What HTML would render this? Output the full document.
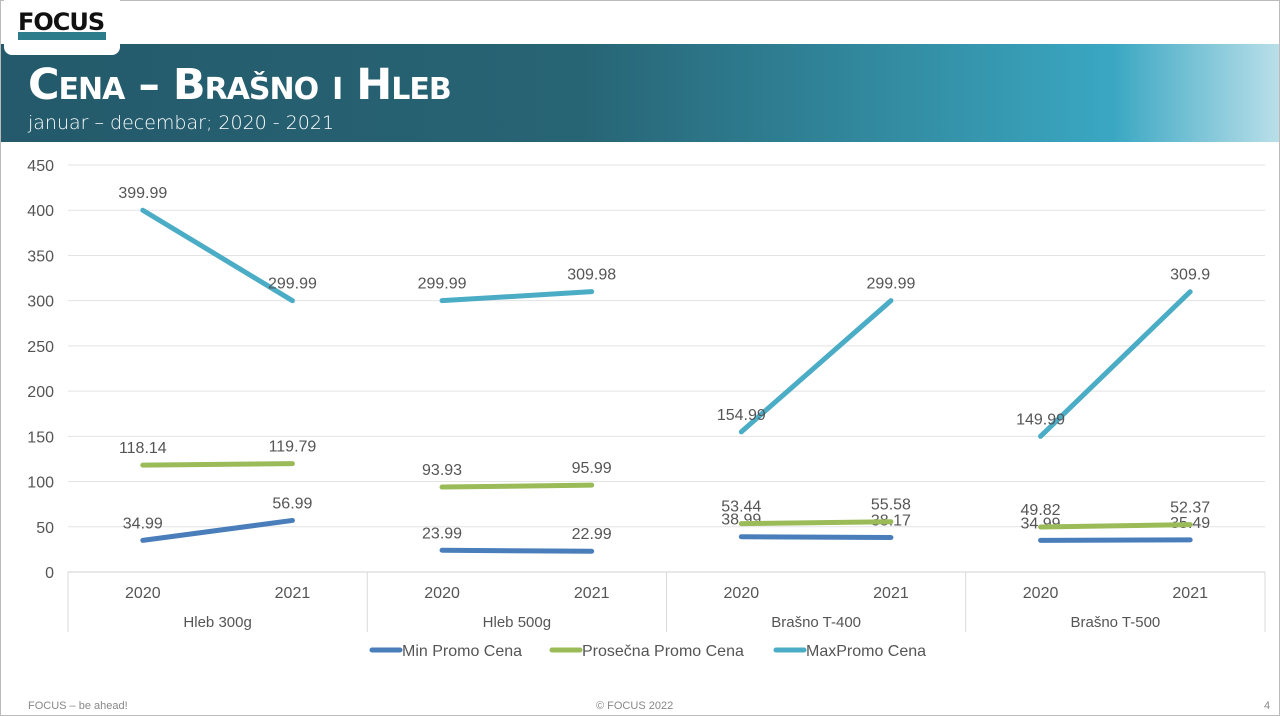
<!DOCTYPE html>
<html><head><meta charset="utf-8"><style>
body{margin:0;width:1280px;height:716px;overflow:hidden;background:#fff;font-family:"Liberation Sans",sans-serif}
.frame{position:absolute;left:0;top:0;width:1278px;height:714px;border:1px solid #bbb}
.band{position:absolute;left:1px;top:44px;width:1278px;height:98px;background:linear-gradient(90deg,#245a6b 0%,#276474 45%,#3594ab 75%,#3aa7c2 87%,#b9dfe9 100%)}
.tab{position:absolute;left:4px;top:0;width:116px;height:55px;background:#fff;border-radius:0 0 8px 8px}
.title{position:absolute;left:28px;top:60px;color:#fff;font-family:"DejaVu Sans",sans-serif;font-weight:bold;font-size:43px;font-variant:small-caps;letter-spacing:-1px;line-height:50px}
.sub{position:absolute;left:28px;top:111px;color:#fff;font-family:"DejaVu Sans",sans-serif;font-size:19px;line-height:24px;font-weight:300}
.foot{position:absolute;top:700px;font-size:11px;color:#888}
</style></head><body>
<div class="frame"></div>
<div class="band"></div>
<div class="tab">
<svg width="116" height="50">
<rect x="14" y="32" width="88" height="8" fill="#2c7c8c"/>
<text x="14" y="30" font-family="DejaVu Sans" font-weight="bold" font-size="24" fill="#111" letter-spacing="-1">FOCUS</text>
</svg></div>
<div class="title">Cena – Brašno i Hleb</div>
<div class="sub">januar – decembar; 2020 - 2021</div>
<svg id="c" width="1280" height="716" style="position:absolute;left:0;top:0"></svg>
<div class="foot" style="left:28px">FOCUS – be ahead!</div>
<div class="foot" style="left:596px">© FOCUS 2022</div>
<div class="foot" style="left:1264px">4</div>
<script>
const groups=["Hleb 300g","Hleb 500g","Brašno T-400","Brašno T-500"];
const years=["2020","2021"];
const minVals=[[34.99,56.99],[23.99,22.99],[38.99,38.17],[34.99,35.49]];
const avgVals=[[118.14,119.79],[93.93,95.99],[53.44,55.58],[49.82,52.37]];
const maxVals=[[399.99,299.99],[299.99,309.98],[154.99,299.99],[149.99,309.9]];
const seriesNames=["Min Promo Cena","Prosečna Promo Cena","MaxPromo Cena"];
const yTicks=[0,50,100,150,200,250,300,350,400,450];
const colors=["#4a7ebb","#9bbb59","#4bacc6"];
const svg=document.getElementById('c');const NS="http://www.w3.org/2000/svg";
const L=68,R=1265,Y0=572,Ytop=165,Ymax=450;
const gw=(R-L)/groups.length;
const y=v=>Y0-(v/Ymax)*(Y0-Ytop);
const x=(g,i)=>L+gw*g+gw*(0.25+0.5*i);
function mk(t,a,txt){const e=document.createElementNS(NS,t);for(const k in a)e.setAttribute(k,a[k]);if(txt!=null)e.textContent=txt;svg.appendChild(e);return e;}
yTicks.forEach(t=>{
 const l=mk('line',{x1:L,x2:R,y1:y(t),y2:y(t),stroke:t===0?'#d0d0d0':'#e3e3e3','stroke-width':1});
 
 const tx=mk('text',{x:54,y:y(t)+6,'text-anchor':'end','font-size':16,fill:'#555'},t);
 
});
for(let g=0;g<=groups.length;g++){const l=mk('line',{x1:L+gw*g,x2:L+gw*g,y1:Y0,y2:632,stroke:'#d9d9d9'});
 }
groups.forEach((gn,g)=>{
 years.forEach((yr,i)=>{const t=mk('text',{x:x(g,i),y:598,'text-anchor':'middle','font-size':16,fill:'#555'},yr);
  });
 const t=mk('text',{x:L+gw*g+gw/2,y:627,'text-anchor':'middle','font-size':15,fill:'#555'},gn);
 
});
[minVals,avgVals,maxVals].forEach((ser,s)=>{
 ser.forEach((pair,g)=>{
  const l=mk('line',{x1:x(g,0),y1:y(pair[0]),x2:x(g,1),y2:y(pair[1]),stroke:colors[s],'stroke-width':5,'stroke-linecap':'round'});
  
  pair.forEach((v,i)=>{const t=mk('text',{x:x(g,i),y:y(v)-12,'text-anchor':'middle','font-size':16,fill:'#555'},v);
   });
 });
});
const lx=[372,552,776];
seriesNames.forEach((n,s)=>{
 const l=mk('line',{x1:lx[s],x2:lx[s]+28,y1:650,y2:650,stroke:colors[s],'stroke-width':5,'stroke-linecap':'round'});
 
 const t=mk('text',{x:lx[s]+30,y:656,'font-size':16,fill:'#555'},n);
 
});
</script>
</body></html>
